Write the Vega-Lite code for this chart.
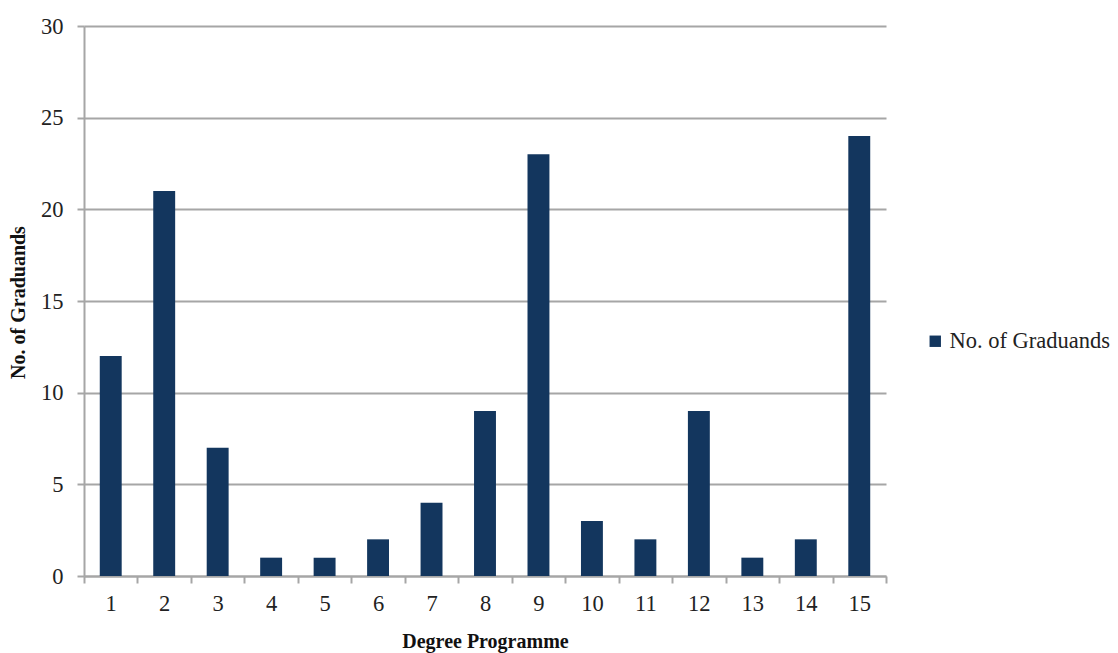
{
  "$schema": "https://vega.github.io/schema/vega-lite/v6.json",
  "autosize": "none",
  "width": 802,
  "height": 550,
  "padding": {"left": 84, "top": 26, "right": 232, "bottom": 77},
  "background": "white",
  "config": {
    "font": "Liberation Serif",
    "view": {"stroke": null}
  },
  "data": {
    "values": [
      {"programme": "1", "series": "No. of Graduands", "graduands": 12},
      {"programme": "2", "series": "No. of Graduands", "graduands": 21},
      {"programme": "3", "series": "No. of Graduands", "graduands": 7},
      {"programme": "4", "series": "No. of Graduands", "graduands": 1},
      {"programme": "5", "series": "No. of Graduands", "graduands": 1},
      {"programme": "6", "series": "No. of Graduands", "graduands": 2},
      {"programme": "7", "series": "No. of Graduands", "graduands": 4},
      {"programme": "8", "series": "No. of Graduands", "graduands": 9},
      {"programme": "9", "series": "No. of Graduands", "graduands": 23},
      {"programme": "10", "series": "No. of Graduands", "graduands": 3},
      {"programme": "11", "series": "No. of Graduands", "graduands": 2},
      {"programme": "12", "series": "No. of Graduands", "graduands": 9},
      {"programme": "13", "series": "No. of Graduands", "graduands": 1},
      {"programme": "14", "series": "No. of Graduands", "graduands": 2},
      {"programme": "15", "series": "No. of Graduands", "graduands": 24}
    ]
  },
  "mark": {"type": "bar", "width": {"band": 0.41}},
  "encoding": {
    "x": {
      "field": "programme",
      "type": "ordinal",
      "sort": null,
      "scale": {"paddingInner": 0, "paddingOuter": 0},
      "axis": {
        "title": "Degree Programme",
        "titleFont": "Liberation Serif",
        "titleFontSize": 20,
        "titleFontWeight": "bold",
        "titleColor": "#111",
        "titlePadding": 17,
        "labelAngle": 0,
        "labelFont": "Liberation Serif",
        "labelFontSize": 22.5,
        "labelColor": "#222",
        "labelPadding": 9,
        "tickBand": "extent",
        "tickSize": 7,
        "tickColor": "#a6a6a6",
        "tickWidth": 2,
        "domainColor": "#a6a6a6",
        "domainWidth": 2,
        "grid": false
      }
    },
    "y": {
      "field": "graduands",
      "type": "quantitative",
      "scale": {"domain": [0, 30]},
      "axis": {
        "title": "No. of Graduands",
        "titleFont": "Liberation Serif",
        "titleFontSize": 20,
        "titleFontWeight": "bold",
        "titleColor": "#111",
        "titleX": -66,
        "titleY": 276,
        "titleAngle": -90,
        "titleAlign": "center",
        "titleBaseline": "middle",
        "values": [0, 5, 10, 15, 20, 25, 30],
        "labelFont": "Liberation Serif",
        "labelFontSize": 22.5,
        "labelColor": "#222",
        "labelPadding": 14,
        "tickSize": 7,
        "tickColor": "#a6a6a6",
        "tickWidth": 2,
        "domainColor": "#a6a6a6",
        "domainWidth": 2,
        "grid": true,
        "gridColor": "#a6a6a6",
        "gridWidth": 2
      }
    },
    "color": {
      "field": "series",
      "type": "nominal",
      "scale": {"range": ["#13365e"]},
      "legend": {
        "title": null,
        "orient": "none",
        "legendX": 840,
        "legendY": 304,
        "symbolType": "square",
        "symbolSize": 130,
        "symbolOpacity": 1,
        "labelFont": "Liberation Serif",
        "labelFontSize": 22.5,
        "labelColor": "#222",
        "labelOffset": 3,
        "labelLimit": 300
      }
    }
  }
}
